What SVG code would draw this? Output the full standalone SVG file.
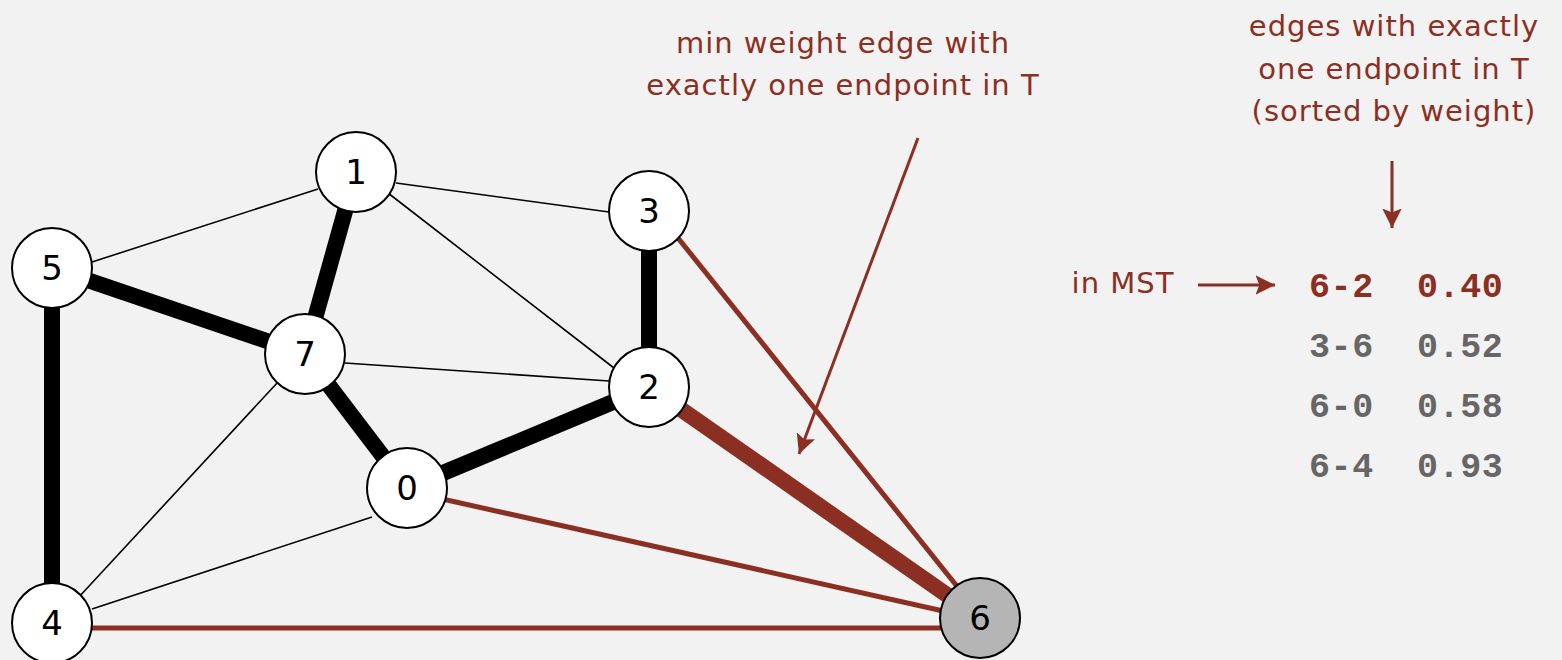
<svg xmlns="http://www.w3.org/2000/svg" width="1562" height="660" viewBox="0 0 1562 660">
<defs>
<style>
.bg{fill:#f2f2f2}
.thin{stroke:#000;stroke-width:1.6;fill:none}
.thick{stroke:#000;stroke-width:16;fill:none}
.red{stroke:#8b2f23;stroke-width:5;fill:none}
.redthick{stroke:#8b2f23;stroke-width:16;fill:none}
.node circle{fill:#fff;stroke:#000;stroke-width:2}
.node text{font-family:"DejaVu Sans",sans-serif;font-size:34px;fill:#000;text-anchor:middle}
.lbl{font-family:"DejaVu Sans",sans-serif;font-size:29px;letter-spacing:1px;fill:#8b2f23;text-anchor:middle}
.mono{font-family:"Liberation Mono",monospace;font-weight:bold;font-size:35px;letter-spacing:0.6px;fill:#666;white-space:pre}
.arrow{stroke:#8b2f23;stroke-width:3;fill:none}
</style>
<marker id="ah" viewBox="0 0 10 10" refX="10" refY="5" markerWidth="6.5" markerHeight="6.5" markerUnits="strokeWidth" orient="auto">
<path d="M0,0 L10,5 L0,10 L2,5 Z" fill="#8b2f23"/>
</marker>
</defs>
<rect class="bg" x="0" y="0" width="1562" height="660"/>
<g id="connectors">
<line class="thin" x1="396" y1="183" x2="609" y2="212"/>
<line class="thin" x1="92" y1="262" x2="318" y2="189"/>
<line class="thin" x1="388" y1="193" x2="614" y2="368"/>
<line class="thin" x1="345" y1="363" x2="609" y2="381"/>
<line class="thin" x1="278" y1="382" x2="78" y2="598"/>
<line class="thin" x1="372" y1="517" x2="92" y2="609"/>
<line class="thick" x1="356" y1="172" x2="305" y2="354"/>
<line class="thick" x1="52" y1="268" x2="305" y2="354"/>
<line class="thick" x1="52" y1="268" x2="52" y2="623"/>
<line class="thick" x1="649" y1="211" x2="649" y2="387"/>
<line class="thick" x1="305" y1="354" x2="407" y2="488"/>
<line class="thick" x1="407" y1="488" x2="649" y2="387"/>
<line class="red" x1="660" y1="215.5" x2="968" y2="600"/>
<line class="redthick" x1="649" y1="387" x2="980" y2="618"/>
<line class="red" x1="420" y1="494" x2="970" y2="617"/>
<line class="red" x1="52" y1="628" x2="970" y2="628"/>
</g>
<g id="n1" class="node"><circle cx="356" cy="172" r="40"/><text x="356" y="184">1</text></g>
<g id="n5" class="node"><circle cx="52" cy="268" r="40"/><text x="52" y="280">5</text></g>
<g id="n3" class="node"><circle cx="649" cy="211" r="40"/><text x="649" y="223">3</text></g>
<g id="n7" class="node"><circle cx="305" cy="354" r="40"/><text x="305" y="366">7</text></g>
<g id="n2" class="node"><circle cx="649" cy="387" r="40"/><text x="649" y="399">2</text></g>
<g id="n0" class="node"><circle cx="407" cy="488" r="40"/><text x="407" y="500">0</text></g>
<g id="n4" class="node"><circle cx="52" cy="623" r="40"/><text x="52" y="635">4</text></g>
<g id="n6" class="node"><circle cx="980" cy="618" r="40" style="fill:#b5b5b5"/><text x="980" y="630">6</text></g>
<g id="annotations">
<text class="lbl" x="843" y="53">min weight edge with</text>
<text class="lbl" x="843" y="95">exactly one endpoint in T</text>
<line class="arrow" x1="918" y1="138" x2="799" y2="454" marker-end="url(#ah)"/>
<text class="lbl" x="1394" y="36">edges with exactly</text>
<text class="lbl" x="1394" y="79">one endpoint in T</text>
<text class="lbl" x="1394" y="121">(sorted by weight)</text>
<line class="arrow" x1="1392" y1="161" x2="1392" y2="228" marker-end="url(#ah)"/>
<text class="lbl" x="1123" y="293">in MST</text>
<line class="arrow" x1="1198" y1="285" x2="1275" y2="285" marker-end="url(#ah)"/>
<text class="mono" x="1309" y="297" style="fill:#8b2f23">6-2  0.40</text>
<text class="mono" x="1309" y="357">3-6  0.52</text>
<text class="mono" x="1309" y="417">6-0  0.58</text>
<text class="mono" x="1309" y="477">6-4  0.93</text>
</g>
</svg>
